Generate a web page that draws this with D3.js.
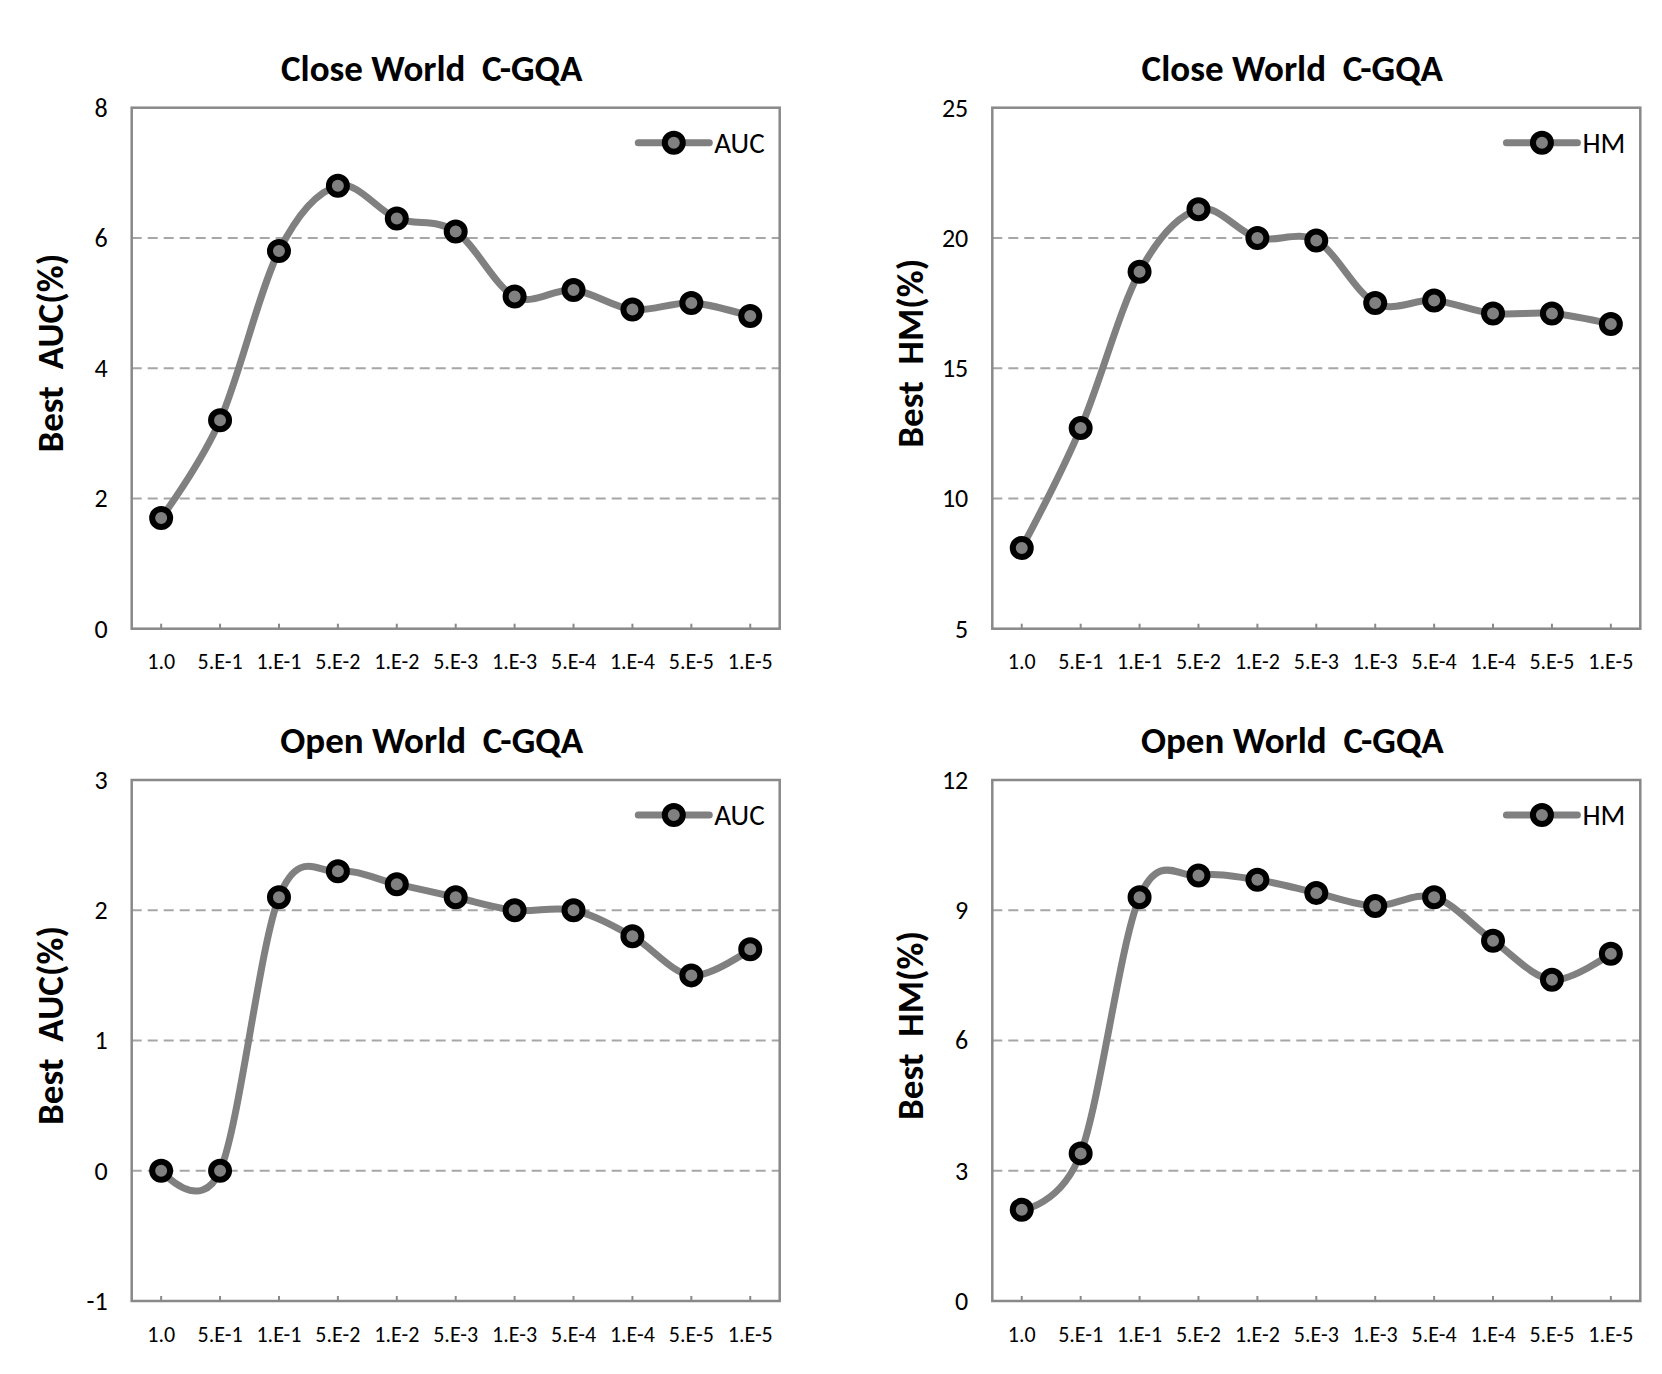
<!DOCTYPE html>
<html>
<head>
<meta charset="utf-8">
<script src="https://cdn.jsdelivr.net/npm/d3@7"></script>
<style>
  body { margin: 0; background: #fff; }
  text { font-family: Carlito, Calibri, Lato, sans-serif; fill: #000; white-space: pre; }
</style>
</head>
<body>
<svg id="chart" width="1662" height="1374"></svg>
<script>
// x categories (learning rate / weight)
const xLabels = ["1.0", "5.E-1", "1.E-1", "5.E-2", "1.E-2", "5.E-3", "1.E-3", "5.E-4", "1.E-4", "5.E-5", "1.E-5"];

// series values
const closeAUC = [1.7, 3.2, 5.8, 6.8, 6.3, 6.1, 5.1, 5.2, 4.9, 5.0, 4.8];
const closeHM = [8.1, 12.7, 18.7, 21.1, 20.0, 19.9, 17.5, 17.6, 17.1, 17.1, 16.7];
const openAUC = [0.0, 0.0, 2.1, 2.3, 2.2, 2.1, 2.0, 2.0, 1.8, 1.5, 1.7];
const openHM = [2.1, 3.4, 9.3, 9.8, 9.7, 9.4, 9.1, 9.3, 8.3, 7.4, 8.0];

// y tick values
const closeAUCTicks = [0, 2, 4, 6, 8];
const closeHMTicks = [5, 10, 15, 20, 25];
const openAUCTicks = [-1, 0, 1, 2, 3];
const openHMTicks = [0, 3, 6, 9, 12];

const titles = ["Close World  C-GQA", "Close World  C-GQA", "Open World  C-GQA", "Open World  C-GQA"];
const yTitles = ["Best  AUC(%)", "Best  HM(%)", "Best  AUC(%)", "Best  HM(%)"];
const legendNames = ["AUC", "HM", "AUC", "HM"];

const panels = [
  { values: closeAUC, ticks: closeAUCTicks, col: 0, row: 0 },
  { values: closeHM, ticks: closeHMTicks, col: 1, row: 0 },
  { values: openAUC, ticks: openAUCTicks, col: 0, row: 1 },
  { values: openHM, ticks: openHMTicks, col: 1, row: 1 },
].map((p, i) => ({ ...p, title: titles[i], yTitle: yTitles[i], name: legendNames[i] }));

const svg = d3.select("#chart");
const plotW = 648;
const plotH = 521;
const lefts = [131.7, 992.3];
const tops = [107.7, 780];
const lineColor = "#808080";
const borderColor = "#898989";

panels.forEach(drawPanel);

function drawPanel(p) {
  const x0 = lefts[p.col];
  const y0 = tops[p.row];
  const g = svg.append("g").attr("transform", `translate(${x0},${y0})`);

  const x = d3.scaleBand().domain(xLabels).range([0, plotW]);
  const y = d3.scaleLinear().domain(d3.extent(p.ticks)).range([plotH, 0]);
  const cx = (d) => x(d) + x.bandwidth() / 2;

  // dashed gridlines (inner ticks only)
  g.append("g")
    .selectAll("line")
    .data(p.ticks.slice(1, -1))
    .enter()
    .append("line")
    .attr("x1", 0)
    .attr("x2", plotW)
    .attr("y1", (d) => y(d))
    .attr("y2", (d) => y(d))
    .attr("stroke", "#a6a6a6")
    .attr("stroke-width", 2)
    .attr("stroke-dasharray", "10,6");

  // plot border
  g.append("rect")
    .attr("width", plotW)
    .attr("height", plotH)
    .attr("fill", "none")
    .attr("stroke", borderColor)
    .attr("stroke-width", 2.5);

  // X-Axis (inward ticks)
  const xAxis = g
    .append("g")
    .attr("transform", `translate(0,${plotH})`)
    .call(d3.axisBottom(x).tickSize(-5));
  xAxis.select(".domain").remove();
  xAxis.selectAll(".tick line").attr("stroke", borderColor).attr("stroke-width", 2);
  xAxis
    .selectAll("text")
    .attr("y", 33)
    .attr("dy", "0.35em")
    .style("font-size", "22px")
    .style("font-family", "Carlito, Calibri, Lato, sans-serif");

  // Y-Axis
  const yAxis = g
    .append("g")
    .call(
      d3.axisLeft(y)
        .tickValues(p.ticks)
        .tickFormat((d) => String(d))
        .tickSize(0)
        .tickPadding(24)
    );
  yAxis.select(".domain").remove();
  yAxis
    .selectAll("text")
    .style("font-size", "26px")
    .style("font-family", "Carlito, Calibri, Lato, sans-serif");

  // smoothed series line
  const line = d3
    .line()
    .x((d, i) => cx(xLabels[i]))
    .y((d) => y(d))
    .curve(d3.curveCardinal.tension(0));

  g.append("path")
    .datum(p.values)
    .attr("fill", "none")
    .attr("stroke", lineColor)
    .attr("stroke-width", 7)
    .attr("d", line);

  g.append("g")
    .selectAll("circle")
    .data(p.values)
    .enter()
    .append("circle")
    .attr("cx", (d, i) => cx(xLabels[i]))
    .attr("cy", (d) => y(d))
    .attr("r", 9)
    .attr("fill", lineColor)
    .attr("stroke", "#000")
    .attr("stroke-width", 6);

  // legend, right aligned inside plot
  const leg = g.append("g").attr("transform", `translate(${plotW - 15},35)`);
  const legText = leg
    .append("text")
    .attr("text-anchor", "end")
    .attr("dy", "0.35em")
    .style("font-size", "29px")
    .text(p.name);
  const tw = legText.node().getComputedTextLength();
  const lx = -tw - 5;
  leg.append("line")
    .attr("x1", lx - 71)
    .attr("x2", lx)
    .attr("stroke", lineColor)
    .attr("stroke-width", 7)
    .attr("stroke-linecap", "round");
  leg.append("circle")
    .attr("cx", lx - 35.5)
    .attr("r", 9)
    .attr("fill", lineColor)
    .attr("stroke", "#000")
    .attr("stroke-width", 6);

  // title
  svg
    .append("text")
    .attr("x", x0 + plotW / 2 - 24)
    .attr("y", y0 - 27)
    .attr("text-anchor", "middle")
    .style("font-size", "37px")
    .style("font-weight", "bold")
    .text(p.title);

  // Y-axis label
  svg
    .append("text")
    .attr("transform", "rotate(-90)")
    .attr("x", -(y0 + plotH / 2 - 15))
    .attr("y", x0 - 82)
    .attr("dy", "0.35em")
    .attr("text-anchor", "middle")
    .style("font-size", "37px")
    .style("font-weight", "bold")
    .text(p.yTitle);
}
</script>
</body>
</html>
